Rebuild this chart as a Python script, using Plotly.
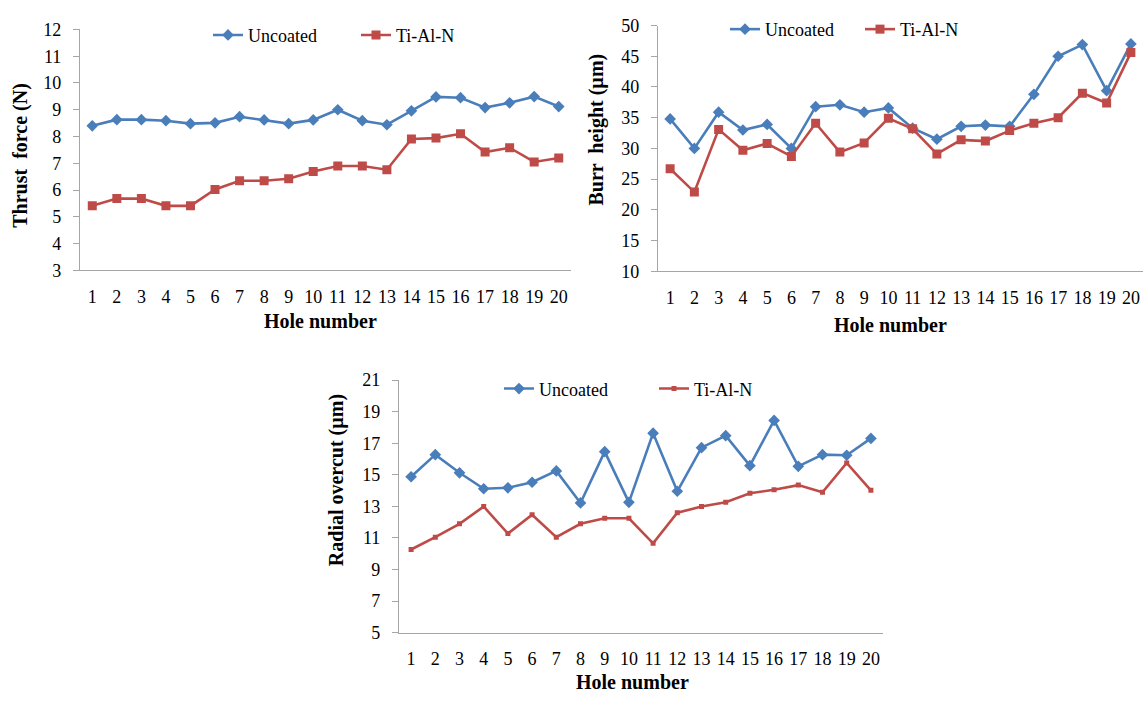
import plotly.graph_objects as go

holes = list(range(1, 21))
tick_labels = [str(h) for h in holes]

thrust_uncoated = [8.40, 8.63, 8.63, 8.59, 8.48, 8.51, 8.74, 8.62, 8.48, 8.62,
                   9.00, 8.59, 8.44, 8.96, 9.48, 9.45, 9.08, 9.26, 9.49, 9.12]
thrust_tialn = [5.41, 5.68, 5.68, 5.41, 5.41, 6.02, 6.35, 6.35, 6.42, 6.69,
                6.90, 6.90, 6.76, 7.91, 7.94, 8.10, 7.42, 7.58, 7.05, 7.20]

burr_uncoated = [34.8, 30.0, 35.9, 33.0, 33.9, 30.0, 36.8, 37.1, 35.9, 36.6,
                 33.3, 31.5, 33.6, 33.8, 33.6, 38.8, 45.0, 46.9, 39.4, 47.0]
burr_tialn = [26.7, 22.9, 33.1, 29.7, 30.8, 28.7, 34.1, 29.4, 30.9, 34.9,
              33.2, 29.1, 31.4, 31.2, 32.9, 34.1, 35.0, 39.0, 37.4, 45.6]

radial_uncoated = [14.88, 16.28, 15.13, 14.12, 14.18, 14.53, 15.25, 13.22, 16.47, 13.26,
                   17.64, 13.96, 16.72, 17.48, 15.58, 18.45, 15.54, 16.28, 16.24, 17.31]
radial_tialn = [10.27, 11.05, 11.90, 12.99, 11.28, 12.47, 11.05, 11.90, 12.25, 12.25,
                10.66, 12.60, 12.99, 13.26, 13.83, 14.06, 14.35, 13.90, 15.75, 14.02]

W, H = 1148, 701
BLUE = "#4A7EBB"
RED = "#BE4B48"
AXIS = "#A6A6A6"
FONT = "Liberation Serif"


def px_x(p):
    return p / W


def px_y(p):
    return 1 - p / H


fig = go.Figure()

panels = [
    # (xaxis, yaxis, legend, x-domain px, y-domain px, yrange, dtick, data, tialn marker size)
    ("x", "y", "legend", (80, 571), (268, 20), (3, 12), 1, thrust_uncoated, thrust_tialn, 9),
    ("x2", "y2", "legend2", (658, 1143), (269, 16), (10, 50), 5, burr_uncoated, burr_tialn, 9),
    ("x3", "y3", "legend3", (399, 883), (641, 381), (5, 21), 2, radial_uncoated, radial_tialn, 5),
]

for xa, ya, lg, xd, yd, yr, dt, unc, tin, msz in panels:
    fig.add_trace(go.Scatter(
        x=holes, y=unc, name="Uncoated", mode="lines+markers",
        line=dict(color=BLUE, width=2.6),
        marker=dict(symbol="diamond", size=9, color=BLUE),
        xaxis=xa, yaxis=ya, legend=lg))
    fig.add_trace(go.Scatter(
        x=holes, y=tin, name="Ti-Al-N", mode="lines+markers",
        line=dict(color=RED, width=2.6),
        marker=dict(symbol="square", size=msz, color=RED),
        xaxis=xa, yaxis=ya, legend=lg))

axis_common = dict(showline=True, linecolor=AXIS, linewidth=1.3, showgrid=False,
                   zeroline=False, tickfont=dict(family=FONT, size=18, color="#000"))

layout = dict(width=W, height=H, margin=dict(l=0, r=0, t=0, b=0),
              paper_bgcolor="white", plot_bgcolor="white",
              font=dict(family=FONT, size=18, color="#000"))

for i, (xa, ya, lg, xd, yd, yr, dt, unc, tin, msz) in enumerate(panels):
    xname = "xaxis" if xa == "x" else "xaxis" + xa[1:]
    yname = "yaxis" if ya == "y" else "yaxis" + ya[1:]
    layout[xname] = dict(axis_common, domain=[px_x(xd[0]), px_x(xd[1])], anchor=ya,
                         range=[0.5, 20.5], tickmode="array", tickvals=holes,
                         ticktext=tick_labels, ticks="", ticklabelstandoff=10)
    layout[yname] = dict(axis_common, domain=[px_y(yd[0]), px_y(yd[1])], anchor=xa,
                         range=list(yr), dtick=dt, tick0=yr[0], ticks="outside",
                         ticklen=6, tickcolor=AXIS, tickwidth=1.3, ticklabelstandoff=8)

legend_common = dict(orientation="h", xanchor="left", yanchor="middle",
                     bgcolor="rgba(0,0,0,0)", font=dict(family=FONT, size=18),
                     entrywidthmode="pixels", itemwidth=30)
layout["legend"] = dict(legend_common, x=px_x(208), y=px_y(26), entrywidth=103)
layout["legend2"] = dict(legend_common, x=px_x(725), y=px_y(20), entrywidth=90)
layout["legend3"] = dict(legend_common, x=px_x(499), y=px_y(390), entrywidth=110)

fig.update_layout(**layout)

titles = [
    ("Thrust  force (N)", 21, 150, -90),
    ("Burr  height (µm)", 596, 123, -90),
    ("Radial overcut (µm)", 336, 484, -90),
    ("Hole number", 320, 320, 0),
    ("Hole number", 890, 324, 0),
    ("Hole number", 632, 692, 0),
]
for text, x, y, ang in titles:
    fig.add_annotation(text="<b>%s</b>" % text, x=px_x(x), y=px_y(y), xref="paper", yref="paper",
                       xanchor="center", yanchor="middle", showarrow=False, textangle=ang,
                       font=dict(family=FONT, size=20, color="#000"))

fig.write_html("out.html")
